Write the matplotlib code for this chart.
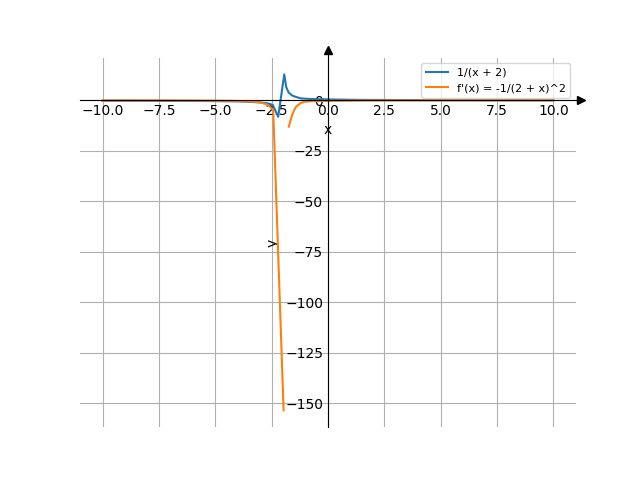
import numpy as np
import matplotlib
matplotlib.use("Agg")
import matplotlib.pyplot as plt

# f(x) = 1/(x + 2)
f_x = [-10, -8, -6, -5, -4, -3.5, -3, -2.7, -2.45, -2.21, -1.94, -1.85, -1.75,
       -1.6, -1.47, -1.2, -0.75, -0.5, 0, 1, 2, 4, 6, 8, 10]
f_y = [-0.125, -0.167, -0.25, -0.333, -0.5, -0.667, -1.0, -1.4, -2.2, -8.1, 12.9,
       6.5, 4.0, 2.5, 1.9, 1.0, 0.7, 0.6, 0.5, 0.33, 0.25, 0.17, 0.125, 0.1, 0.083]

# f'(x) = -1/(2 + x)^2, two branches
d_x_left = [-10, -8, -6, -5, -4, -3.5, -3, -2.75, -2.6, -2.43, -1.97]
d_y_left = [-0.016, -0.028, -0.0625, -0.11, -0.25, -0.44, -1.0, -1.8, -2.8, -4.7, -153.6]
d_x_right = [-1.74, -1.6, -1.5, -1.41, -1.2, -1.0, -0.7, 0, 1, 2, 4, 6, 8, 10]
d_y_right = [-13.0, -7.5, -4.8, -3.0, -1.2, -0.6, -0.35, -0.25, -0.11, -0.0625,
             -0.028, -0.016, -0.01, -0.007]

labels = ["1/(x + 2)", "f'(x) = -1/(2 + x)^2"]

fig, ax = plt.subplots(figsize=(6.4, 4.8), dpi=100)

ax.plot(f_x, f_y, color="C0", label=labels[0])
d_x = d_x_left + [np.nan] + d_x_right
d_y = d_y_left + [np.nan] + d_y_right
ax.plot(d_x, d_y, color="C1", label=labels[1])

ax.spines["left"].set_position("zero")
ax.spines["bottom"].set_position("zero")
ax.spines["right"].set_visible(False)
ax.spines["top"].set_visible(False)

ax.set_xticks(np.arange(-10, 10.1, 2.5))
ax.set_yticks([0, -25, -50, -75, -100, -125, -150])
ax.tick_params(axis="x", length=0, pad=2.5)
ax.tick_params(axis="y", length=0)
ax.grid(True)
ax.set_xlabel("x")
ax.set_ylabel("y")

ax.plot(1.011, 0, ">k", transform=ax.get_yaxis_transform(), clip_on=False, markersize=5.5)
ax.plot(0, 1.02, "^k", transform=ax.get_xaxis_transform(), clip_on=False, markersize=5.5)
ax.plot([1.0, 1.011], [0, 0], "k-", lw=0.8, transform=ax.get_yaxis_transform(), clip_on=False)
ax.plot([0, 0], [1.0, 1.02], "k-", lw=0.8, transform=ax.get_xaxis_transform(), clip_on=False)

ax.legend(loc="upper right", fontsize=8)

fig.savefig("out.png", dpi=100)
